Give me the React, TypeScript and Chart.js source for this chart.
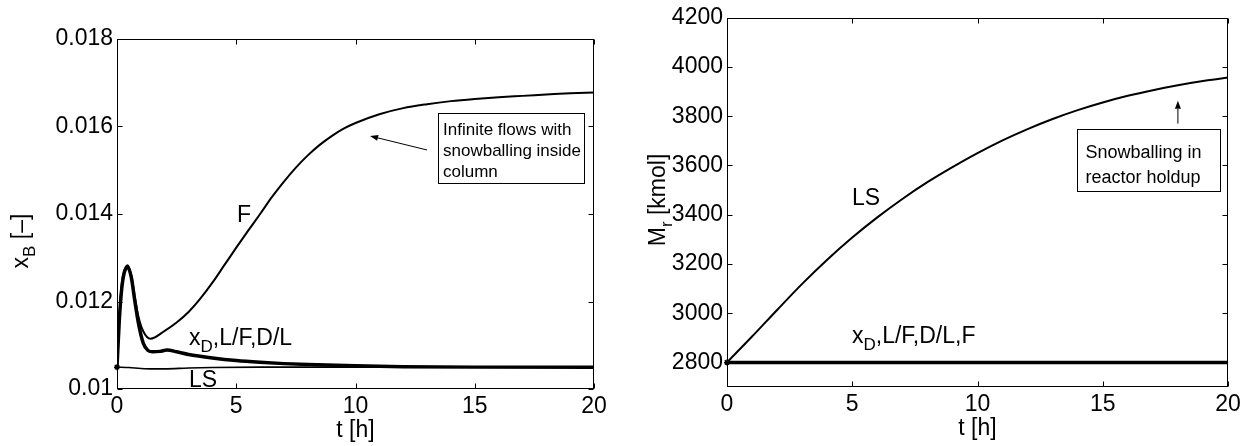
import React, { useEffect, useRef } from "react";
import { Chart, registerables } from "chart.js";
Chart.register(...registerables);

const FONT = "'Liberation Sans', Arial, Helvetica, sans-serif";
const FS = 23;

// ---------- Left panel data: x_B [-] vs t [h] ----------
const tF = [0, 0.1, 0.2, 0.3, 0.45, 0.6, 0.75, 0.9, 1.1, 1.4, 2, 2.5, 3, 3.5, 4, 4.5, 5, 5.5, 6, 6.5, 7, 7.5, 8, 8.5, 9, 9.5, 10, 11, 12, 13, 14, 15, 16, 17, 18, 19, 20];
const xbF = [0.0105, 0.0117, 0.0124, 0.0127, 0.01283, 0.0126, 0.0121, 0.01165, 0.01132, 0.01115, 0.01133, 0.01152, 0.01176, 0.01207, 0.01243, 0.01283, 0.01323, 0.01362, 0.014, 0.01439, 0.01474, 0.01506, 0.01534, 0.01558, 0.01578, 0.01595, 0.01608, 0.01628, 0.01642, 0.01651, 0.01658, 0.01663, 0.01667, 0.0167, 0.01673, 0.01676, 0.01678];

const tXD = [0, 0.1, 0.2, 0.3, 0.45, 0.6, 0.75, 0.9, 1.1, 1.3, 1.5, 1.8, 2.1, 2.5, 3, 4, 5, 6, 7, 8, 10, 12, 15, 20];
const xbXD = [0.0105, 0.0116, 0.0123, 0.01265, 0.01278, 0.01255, 0.012, 0.0115, 0.01105, 0.01088, 0.01085, 0.01086, 0.01089, 0.01085, 0.01079, 0.01071, 0.01065, 0.01061, 0.01058, 0.01056, 0.01053, 0.01051, 0.0105, 0.0105];

const tLS = [0, 0.5, 1, 1.5, 2, 3, 4, 6, 10, 15, 20];
const xbLS = [0.0105, 0.01049, 0.01047, 0.01046, 0.01046, 0.01048, 0.01049, 0.0105, 0.0105, 0.0105, 0.0105];

const xTicks = [0, 5, 10, 15, 20];
const yTicksLeft = [0.01, 0.012, 0.014, 0.016, 0.018];

// ---------- Right panel data: M_r [kmol] vs t [h] ----------
const tMr = [0, 1, 2, 3, 4, 5, 6, 7, 8, 9, 10, 11, 12, 13, 14, 15, 16, 17, 18, 19, 20];
const mrLS = [2800, 2905, 3013, 3119, 3217, 3307, 3389, 3464, 3532, 3593, 3650, 3702, 3748, 3789, 3825, 3856, 3883, 3906, 3926, 3943, 3957];
const tConst = [0, 20];
const mrConst = [2800, 2800];
const yTicksRight = [2800, 3000, 3200, 3400, 3600, 3800, 4000, 4200];

type Part = { text: string; sub?: boolean };
const XD_LEFT: Part[] = [{ text: "x" }, { text: "D", sub: true }, { text: ",L/F,D/L" }];
const XD_RIGHT: Part[] = [{ text: "x" }, { text: "D", sub: true }, { text: ",L/F,D/L,F" }];

const pts = (xs: number[], ys: number[]) => xs.map((x, i) => ({ x, y: ys[i] }));

function richWidth(ctx: CanvasRenderingContext2D, parts: Part[], size: number) {
  let w = 0;
  for (const p of parts) {
    ctx.font = `${p.sub ? Math.round(size * 0.72) : size}px ${FONT}`;
    w += ctx.measureText(p.text).width;
  }
  return w;
}
function drawRich(ctx: CanvasRenderingContext2D, x: number, y: number, parts: Part[], size: number) {
  ctx.textBaseline = "alphabetic";
  ctx.textAlign = "left";
  let cx = x;
  for (const p of parts) {
    const s = p.sub ? Math.round(size * 0.72) : size;
    ctx.font = `${s}px ${FONT}`;
    ctx.fillText(p.text, cx, p.sub ? y + size * 0.3 : y);
    cx += ctx.measureText(p.text).width;
  }
}
function arrow(ctx: CanvasRenderingContext2D, x1: number, y1: number, x2: number, y2: number) {
  const a = Math.atan2(y2 - y1, x2 - x1);
  const L = 8, H = 3;
  ctx.beginPath();
  ctx.moveTo(x1, y1);
  ctx.lineTo(x2 - L * Math.cos(a), y2 - L * Math.sin(a));
  ctx.lineWidth = 1;
  ctx.stroke();
  ctx.beginPath();
  ctx.moveTo(x2, y2);
  ctx.lineTo(x2 - L * Math.cos(a) + H * Math.sin(a), y2 - L * Math.sin(a) - H * Math.cos(a));
  ctx.lineTo(x2 - L * Math.cos(a) - H * Math.sin(a), y2 - L * Math.sin(a) + H * Math.cos(a));
  ctx.closePath();
  ctx.fill();
}

type PanelCfg = {
  yTitle: Part[];
  yTitleX: number;
  yTitleY: number;
  xTitleY: number;
  labels: { x: number; y: number; parts: Part[] }[];
  box: { x: number; y: number; w: number; h: number; pad: number; size: number; lines: string[]; baselines: number[] };
  arrow: { x1: number; y1: number; x2: number; y2: number };
};

function makePlugin(cfg: PanelCfg) {
  return {
    id: "matlabFrame",
    afterDraw(chart: any) {
      const ctx: CanvasRenderingContext2D = chart.ctx;
      const { left, right, top, bottom } = chart.chartArea;
      const xs = chart.scales.x, ys = chart.scales.y;
      ctx.save();
      ctx.strokeStyle = "#000";
      ctx.fillStyle = "#000";
      ctx.lineWidth = 1;
      const l = Math.round(left) + 0.5, r = Math.round(right) - 0.5, t = Math.round(top) + 0.5, b = Math.round(bottom) - 0.5;
      ctx.strokeRect(l, t, r - l, b - t);
      const TL = 5;
      ctx.beginPath();
      for (const tk of xs.ticks) {
        const px = Math.round(xs.getPixelForValue(tk.value)) + 0.5;
        ctx.moveTo(px, b); ctx.lineTo(px, b - TL);
        ctx.moveTo(px, t); ctx.lineTo(px, t + TL);
      }
      for (const tk of ys.ticks) {
        const py = Math.round(ys.getPixelForValue(tk.value)) + 0.5;
        ctx.moveTo(l, py); ctx.lineTo(l + TL, py);
        ctx.moveTo(r, py); ctx.lineTo(r - TL, py);
      }
      ctx.stroke();

      // axis titles
      const w = richWidth(ctx, cfg.yTitle, FS);
      ctx.save();
      ctx.translate(cfg.yTitleX, cfg.yTitleY);
      ctx.rotate(-Math.PI / 2);
      drawRich(ctx, -w / 2, 0, cfg.yTitle, FS);
      ctx.restore();
      ctx.font = `${FS}px ${FONT}`;
      ctx.textAlign = "center";
      ctx.textBaseline = "alphabetic";
      ctx.fillText("t [h]", xs.getPixelForValue(10), cfg.xTitleY);

      // curve labels
      for (const lb of cfg.labels) {
        drawRich(ctx, xs.getPixelForValue(lb.x), ys.getPixelForValue(lb.y), lb.parts, FS);
      }

      // annotation box
      const bx = Math.round(xs.getPixelForValue(cfg.box.x)) + 0.5;
      const by = Math.round(ys.getPixelForValue(cfg.box.y)) + 0.5;
      ctx.fillStyle = "#fff";
      ctx.fillRect(bx, by, cfg.box.w, cfg.box.h);
      ctx.fillStyle = "#000";
      ctx.lineWidth = 1;
      ctx.strokeRect(bx, by, cfg.box.w, cfg.box.h);
      ctx.font = `${cfg.box.size}px ${FONT}`;
      ctx.textAlign = "left";
      ctx.textBaseline = "alphabetic";
      cfg.box.lines.forEach((ln, i) => ctx.fillText(ln, bx + cfg.box.pad, by + cfg.box.baselines[i]));

      const a = cfg.arrow;
      arrow(ctx, xs.getPixelForValue(a.x1), ys.getPixelForValue(a.y1), xs.getPixelForValue(a.x2), ys.getPixelForValue(a.y2));
      ctx.restore();
    },
  };
}

function baseOptions(yMin: number, yMax: number, yTicks: number[], yFmt: (v: number) => string, pad: any, yW: number, xH: number) {
  return {
    animation: false,
    responsive: false,
    devicePixelRatio: 1,
    layout: { padding: pad },
    plugins: { legend: { display: false }, tooltip: { enabled: false } },
    scales: {
      x: {
        type: "linear",
        min: 0,
        max: 20,
        afterBuildTicks: (s: any) => { s.ticks = xTicks.map((v) => ({ value: v })); },
        afterFit: (s: any) => { s.height = xH; },
        grid: { display: false, drawTicks: false },
        border: { display: false },
        ticks: { font: { size: FS, family: FONT }, color: "#000", padding: 4, maxRotation: 0, autoSkip: false },
      },
      y: {
        type: "linear",
        min: yMin,
        max: yMax,
        afterBuildTicks: (s: any) => { s.ticks = yTicks.map((v) => ({ value: v })); },
        afterFit: (s: any) => { s.width = yW; },
        grid: { display: false, drawTicks: false },
        border: { display: false },
        ticks: { font: { size: FS, family: FONT }, color: "#000", padding: 4, autoSkip: false, callback: (v: any) => yFmt(Number(v)) },
      },
    },
  };
}

const lineDs = (data: any[], width: number) => ({
  data,
  showLine: true,
  borderColor: "#000",
  backgroundColor: "#000",
  borderWidth: width,
  pointRadius: 0,
  pointHoverRadius: 0,
  fill: false,
  cubicInterpolationMode: "monotone",
  borderJoinStyle: "round",
  borderCapStyle: "round",
});
const markerDs = (x: number, y: number) => ({
  data: [{ x, y }],
  showLine: false,
  pointStyle: "star",
  pointRadius: 3,
  borderColor: "#000",
  backgroundColor: "#000",
  borderWidth: 1.5,
  clip: false,
});

export default function App() {
  const leftRef = useRef<HTMLCanvasElement>(null);
  const rightRef = useRef<HTMLCanvasElement>(null);

  useEffect(() => {
    document.body.style.margin = "0";
    const left = new Chart(leftRef.current as HTMLCanvasElement, {
      type: "scatter",
      data: {
        datasets: [
          lineDs(pts(tF, xbF), 2),
          lineDs(pts(tXD, xbXD), 3.5),
          lineDs(pts(tLS, xbLS), 1.6),
          markerDs(tLS[0], xbLS[0]),
        ] as any,
      },
      options: baseOptions(0.01, 0.018, yTicksLeft, (v) => String(Number(v.toFixed(3))), { left: 0, top: 39, right: 26, bottom: 0 }, 117, 57) as any,
      plugins: [
        makePlugin({
          yTitle: [{ text: "x" }, { text: "B", sub: true }, { text: " [\u2013]" }],
          yTitleX: 28,
          yTitleY: 241,
          xTitleY: 437,
          labels: [
            { x: 5.03, y: 0.01382, parts: [{ text: "F" }] },
            { x: 3.02, y: 0.01101, parts: XD_LEFT },
            { x: 3.02, y: 0.010046, parts: [{ text: "LS" }] },
          ],
          box: { x: 13.46, y: 0.016309, w: 146, h: 70, pad: 4.5, size: 17, lines: ["Infinite flows with", "snowballing inside", "column"], baselines: [21, 42, 63] },
          arrow: { x1: 13.0, y1: 0.015463, x2: 10.61, y2: 0.015783 },
        }) as any,
      ],
    });
    const right = new Chart(rightRef.current as HTMLCanvasElement, {
      type: "scatter",
      data: {
        datasets: [
          lineDs(pts(tMr, mrLS), 2),
          lineDs(pts(tConst, mrConst), 3.5),
          markerDs(tMr[0], mrLS[0]),
        ] as any,
      },
      options: baseOptions(2700, 4200, yTicksRight, (v) => String(Math.round(v)), { left: 0, top: 16, right: 21, bottom: 0 }, 107, 59) as any,
      plugins: [
        makePlugin({
          yTitle: [{ text: "M" }, { text: "r", sub: true }, { text: " [kmol]" }],
          yTitleX: 45,
          yTitleY: 200,
          xTitleY: 435,
          labels: [
            { x: 4.99, y: 3440, parts: [{ text: "LS" }] },
            { x: 4.99, y: 2877, parts: XD_RIGHT },
          ],
          box: { x: 13.97, y: 3750, w: 143, h: 62, pad: 8, size: 18, lines: ["Snowballing in", "reactor holdup"], baselines: [28, 53] },
          arrow: { x1: 18.0, y1: 3770, x2: 18.0, y2: 3863 },
        }) as any,
      ],
    });
    return () => {
      left.destroy();
      right.destroy();
    };
  }, []);

  return (
    <div style={{ position: "fixed", left: 0, top: 0, width: 1249, height: 446, background: "#fff" }}>
      <canvas ref={leftRef} width={620} height={446} style={{ position: "absolute", left: 0, top: 0, width: 620, height: 446 }} />
      <canvas ref={rightRef} width={629} height={446} style={{ position: "absolute", left: 620, top: 0, width: 629, height: 446 }} />
    </div>
  );
}
